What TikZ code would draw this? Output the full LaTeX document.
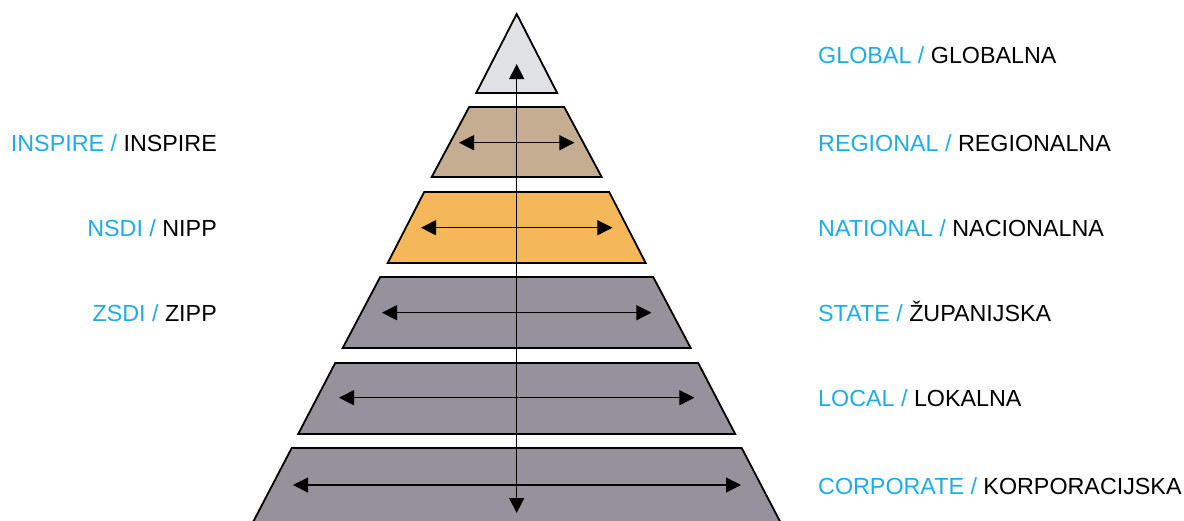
\documentclass[tikz,border=0pt]{standalone}
\usepackage{fontspec}
\setmainfont{Liberation Sans}
\usetikzlibrary{arrows.meta}
\definecolor{lvlTop}{HTML}{E0E1E4}
\definecolor{lvlTan}{HTML}{C4AD91}
\definecolor{lvlOrange}{HTML}{F4B75A}
\definecolor{lvlGray}{HTML}{96929C}
\definecolor{txtBlue}{HTML}{1AADE9}
\tikzset{
  level/.style={draw=black, line width=1.8pt, line join=miter},
  dblarrow/.style={line width=1.1pt, {Triangle[length=15pt,width=15pt]}-{Triangle[length=15pt,width=15pt]}},
  lab/.style={inner sep=0pt, font=\fontsize{23.3}{28}\selectfont},
}
\newcommand{\lbl}[2]{\textcolor{txtBlue}{#1 /} #2}
\begin{document}
\begin{tikzpicture}[x=1pt,y=-1pt]
\clip (0,0) rectangle (1184,520);
\fill[white] (0,0) rectangle (1184,520);
% levels
\draw[level, fill=lvlTop] (516.7,14) -- (557.2,93) -- (476.2,93) -- cycle;
\draw[level, fill=lvlTan] (469.2,107) -- (564.2,107) -- (601.7,177) -- (431.7,177) -- cycle;
\draw[level, fill=lvlOrange] (424.2,192) -- (609.2,192) -- (645.7,263) -- (387.7,263) -- cycle;
\draw[level, fill=lvlGray] (380.2,277) -- (653.2,277) -- (690.7,348) -- (342.7,348) -- cycle;
\draw[level, fill=lvlGray] (335.2,363) -- (698.2,363) -- (735.2,434) -- (298.2,434) -- cycle;
\draw[level, fill=lvlGray] (291.7,448) -- (741.7,448) -- (789.7,540) -- (243.7,540) -- cycle;
% arrow end points
\coordinate (vT) at (516.7,64);
\coordinate (vB) at (516.7,513);
\coordinate (a2L) at (459,142.7);  \coordinate (a2R) at (574.4,142.7);
\coordinate (a3L) at (421,227.7);  \coordinate (a3R) at (612.4,227.7);
\coordinate (a4L) at (382,312.7);  \coordinate (a4R) at (651.4,312.7);
\coordinate (a5L) at (339,397.7);  \coordinate (a5R) at (694.4,397.7);
\coordinate (a6L) at (293,485);    \coordinate (a6R) at (741,485);
\draw[dblarrow] (a2L) -- (a2R);
\draw[dblarrow] (a3L) -- (a3R);
\draw[dblarrow] (a4L) -- (a4R);
\draw[dblarrow] (a5L) -- (a5R);
\draw[dblarrow] (a6L) -- (a6R);
\draw[dblarrow] (vT) -- (vB);
% right labels
\node[lab, anchor=base west] (rGlobal) at (818,63.3) {\lbl{GLOBAL}{GLOBALNA}};
\node[lab, anchor=base west] (rRegional) at (818,151.5) {\lbl{REGIONAL}{REGIONALNA}};
\node[lab, anchor=base west] (rNational) at (818,236.5) {\lbl{NATIONAL}{NACIONALNA}};
\node[lab, anchor=base west] (rState) at (818,321.5) {\lbl{STATE}{ŽUPANIJSKA}};
\node[lab, anchor=base west] (rLocal) at (818,406.5) {\lbl{LOCAL}{LOKALNA}};
\node[lab, anchor=base west] (rCorp) at (818,494) {\lbl{CORPORATE}{KORPORACIJSKA}};
% left labels
\node[lab, anchor=base east] (lInspire) at (217,151.5) {\lbl{INSPIRE}{INSPIRE}};
\node[lab, anchor=base east] (lNsdi) at (217,236.5) {\lbl{NSDI}{NIPP}};
\node[lab, anchor=base east] (lZsdi) at (217,321.5) {\lbl{ZSDI}{ZIPP}};
\end{tikzpicture}
\end{document}
